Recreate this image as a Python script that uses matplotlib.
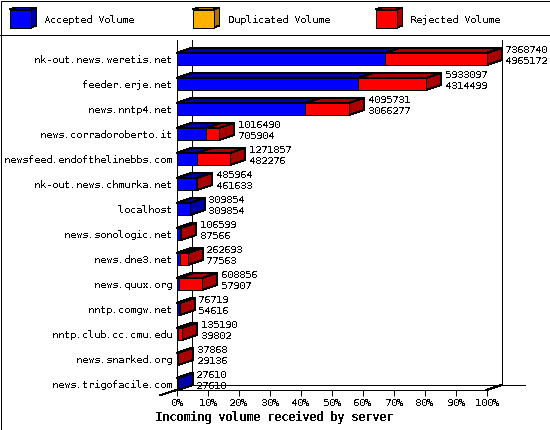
import matplotlib
matplotlib.use("Agg")
import matplotlib.pyplot as plt
from matplotlib.patches import Polygon, Rectangle

plt.rcParams.update({
    'font.family': 'DejaVu Sans Mono',
    'text.antialiased': False,
    'lines.antialiased': False,
    'patch.antialiased': False,
    'text.hinting': 'native',
    'text.hinting_factor': 1,
})

servers = ["nk-out.news.weretis.net", "feeder.erje.net", "news.nntp4.net",
           "news.corradoroberto.it", "newsfeed.endofthelinebbs.com",
           "nk-out.news.chmurka.net", "localhost", "news.sonologic.net",
           "news.dne3.net", "news.quux.org", "nntp.comgw.net",
           "nntp.club.cc.cmu.edu", "news.snarked.org", "news.trigofacile.com"]
total_volume = [7368740, 5933097, 4095731, 1016490, 1271857, 485964, 309854,
                106599, 262693, 608856, 76719, 135190, 37868, 27610]
accepted_volume = [4965172, 4314499, 3066277, 705904, 482276, 461633, 309854,
                   87566, 77563, 57907, 54616, 39802, 29136, 27610]
legend_names = ["Accepted Volume", "Duplicated Volume", "Rejected Volume"]
tick_values = list(range(0, 101, 10))
x_title = "Incoming volume received by server"

BLUE, BLUE_D = "#0000ff", "#0000aa"
ORANGE, ORANGE_D = "#ffb000", "#aa7700"
RED, RED_D = "#ff0000", "#aa0000"
W, H = 550, 430
PX = 0.72  # points per pixel at 100 dpi
FS = 10 * PX
LW = 1.0 * PX

fig = plt.figure(figsize=(W / 100, H / 100), dpi=100, facecolor="white")

# pixel layer for the frame and the legend
bg = fig.add_axes([0, 0, 1, 1], zorder=0)
bg.set_xlim(0, W)
bg.set_ylim(H, 0)
bg.axis("off")
bg.add_patch(Rectangle((0.5, 0.5), W - 1, H - 1, fc="white", ec="black", lw=LW))
bg.plot([0, W], [34.5, 34.5], color="black", lw=LW)


def box(a, x0, x1, y0, y1, dx, dy, front, dark, z=3):
    """Extruded box: y0 is the top of the front face, y1 the bottom."""
    top = [(x0, y0), (x0 + dx, y0 + dy), (x1 + dx, y0 + dy), (x1, y0)]
    side = [(x1, y0), (x1 + dx, y0 + dy), (x1 + dx, y1 + dy), (x1, y1)]
    kw = dict(ec="black", lw=LW, clip_on=False, zorder=z)
    a.add_patch(Polygon(top, fc=dark, **kw))
    a.add_patch(Polygon(side, fc=dark, **kw))
    a.add_patch(Polygon([(x0, y0), (x1, y0), (x1, y1), (x0, y1)], fc=front, **kw))


for name, lx, c, d in zip(legend_names, [9.5, 192.5, 375.5],
                          [BLUE, ORANGE, RED], [BLUE_D, ORANGE_D, RED_D]):
    box(bg, lx, lx + 21, 9.5, 27.5, 6, -2, c, d)
    bg.text(lx + 35, 20, name, fontsize=FS, va="center", ha="left", color="black")

# main chart: the axes rectangle is the front plane
ax = fig.add_axes([176.5 / W, 1 - 390 / H, 310 / W, 350 / H], zorder=1)
ax.patch.set_alpha(0)
ax.set_xlim(0, 100)
ax.set_ylim(len(servers), 0)
DX = 15 / 3.1
DY = -5 / 25
BAR_H = 12 / 25
vmax = max(total_volume)

for s in ("top", "right"):
    ax.spines[s].set_visible(False)
for s in ("left", "bottom"):
    ax.spines[s].set_linewidth(LW)

n = len(servers)
# back plane and floor lines
ax.plot([DX, DX], [0, n + DY], color="black", lw=LW, clip_on=False, zorder=1)
ax.plot([100 + DX, 100 + DX], [0, n + DY], color="black", lw=LW, clip_on=False, zorder=1)
ax.plot([DX, 100 + 38 / 3.1], [n + DY, n + DY], color="black", lw=LW, clip_on=False, zorder=1)
ax.plot([-16 / 3.1, 0, DX], [n + 5.2 / 25, n, n + DY], color="black", lw=LW, clip_on=False, zorder=1)
ax.plot([100, 100 + DX], [n, n + DY], color="black", lw=LW, clip_on=False, zorder=1)

for i, (tot, acc) in enumerate(zip(total_volume, accepted_volume)):
    bottom = i + 1
    top = bottom - BAR_H
    a = acc / vmax * 100
    t = tot / vmax * 100
    if tot > acc:
        box(ax, a, t, top, bottom, DX, DY, RED, RED_D, z=3)
        # blue part sits in front of the red one on the left
        kw = dict(ec="black", lw=LW, clip_on=False, zorder=4)
        ax.add_patch(Polygon([(0, top), (DX, top + DY), (a + DX, top + DY), (a, top)], fc=BLUE_D, **kw))
        ax.add_patch(Polygon([(0, top), (a, top), (a, bottom), (0, bottom)], fc=BLUE, **kw))
    else:
        box(ax, 0, a, top, bottom, DX, DY, BLUE, BLUE_D, z=3)
    for val, off in ((tot, 15.3), (acc, 4.3)):
        ax.annotate(str(val), xy=(t + DX, bottom), xytext=(3.7 * PX, off * PX),
                    textcoords="offset points", fontsize=FS, ha="left", va="center",
                    annotation_clip=False, zorder=6, color="black")

ax.set_xticks(tick_values)
ax.set_xticklabels([f"{v}%" for v in tick_values], fontsize=FS)
ax.tick_params(axis="x", length=5.5 * PX, width=LW, pad=3 * PX)
ax.set_yticks([i + 1 - BAR_H / 2 for i in range(n)])
ax.set_yticklabels(servers, fontsize=FS)
ax.tick_params(axis="y", length=0, pad=4.5 * PX)

bg.text(274, 417, x_title, fontsize=11.67 * PX, fontweight="bold", ha="center",
        va="center", color="black")

fig.savefig("out.png", dpi=100, facecolor="white")
